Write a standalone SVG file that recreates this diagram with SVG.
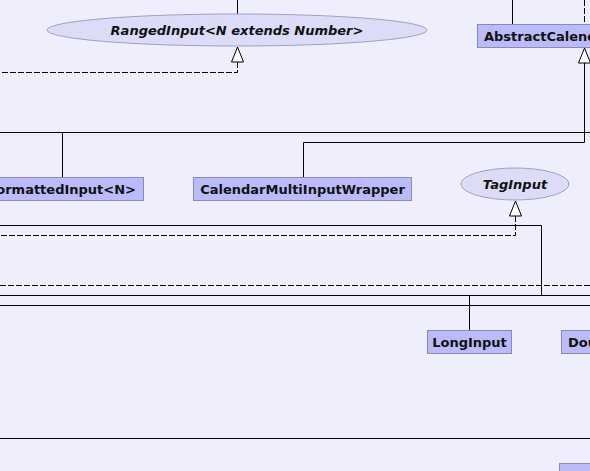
<svg xmlns="http://www.w3.org/2000/svg" width="590" height="471" viewBox="0 0 590 471">
<style>
.cls rect{fill:#BBBBFA;stroke:#8A8AB8;stroke-width:1}
.cls text{font-family:"DejaVu Sans",sans-serif;font-weight:bold;font-size:13px;fill:#111}
.itf ellipse{fill:#DCDCF8;stroke:#A0A0C0;stroke-width:1}
.itf text{font-family:"DejaVu Sans",sans-serif;font-weight:bold;font-style:italic;font-size:13px;fill:#111;text-anchor:middle}
.ln{fill:none;stroke:#000;stroke-width:1}
.dash{fill:none;stroke:#000;stroke-width:1;stroke-dasharray:6,2}
.head{fill:#fff;stroke:#000;stroke-width:1}
</style>
<rect x="0" y="0" width="590" height="471" fill="#EEEEFC"/>
<g id="connectors">
  <path class="ln" d="M237.5,0 V14"/>
  <path class="dash" d="M237.5,62 V72.5 H0"/>
  <polygon class="head" points="237.5,47 231.5,62 243.5,62"/>
  <path class="ln" d="M512.5,0 V24"/>
  <path class="dash" d="M584.5,0 V24"/>
  <polygon class="head" points="584.5,48 578.5,63 590.5,63"/>
  <path class="ln" d="M584.5,63 V142.5 H303.5 V177"/>
  <path class="ln" d="M0,132.5 H590"/>
  <path class="ln" d="M62.5,132.5 V177"/>
  <polygon class="head" points="515.5,201 509.5,216 521.5,216"/>
  <path class="dash" d="M515.5,216 V235.5 H0"/>
  <path class="ln" d="M0,225.5 H541.5 V295.5"/>
  <path class="dash" d="M0,285.5 H590"/>
  <path class="ln" d="M0,295.5 H590"/>
  <path class="ln" d="M0,305.5 H590"/>
  <path class="ln" d="M469.5,295.5 V331"/>
  <path class="ln" d="M0,438.5 H590"/>
</g>
<g id="RangedInput" class="itf">
  <ellipse cx="237" cy="30" rx="190" ry="16"/>
  <text x="237" y="35">RangedInput&lt;N extends Number&gt;</text>
</g>
<g id="AbstractCalendarInput" class="cls">
  <rect x="477.5" y="24.5" width="130" height="23"/>
  <text x="484" y="40.5">AbstractCalendarInput</text>
</g>
<g id="FormattedInput" class="cls">
  <rect x="-20.5" y="177.5" width="164" height="23"/>
  <text x="136" y="193.5" text-anchor="end">FormattedInput&lt;N&gt;</text>
</g>
<g id="CalendarMultiInputWrapper" class="cls">
  <rect x="193.5" y="177.5" width="218" height="23"/>
  <text x="302.5" y="193.5" text-anchor="middle">CalendarMultiInputWrapper</text>
</g>
<g id="TagInput" class="itf">
  <ellipse cx="515" cy="184" rx="54" ry="16"/>
  <text x="515" y="189">TagInput</text>
</g>
<g id="LongInput" class="cls">
  <rect x="427.5" y="330.5" width="84" height="23"/>
  <text x="469.5" y="346.5" text-anchor="middle">LongInput</text>
</g>
<g id="DoubleInput" class="cls">
  <rect x="561.5" y="330.5" width="100" height="23"/>
  <text x="568" y="346.5">DoubleInput</text>
</g>
<g id="BottomClass" class="cls">
  <rect x="559.5" y="463.5" width="100" height="23"/>
</g>
</svg>
